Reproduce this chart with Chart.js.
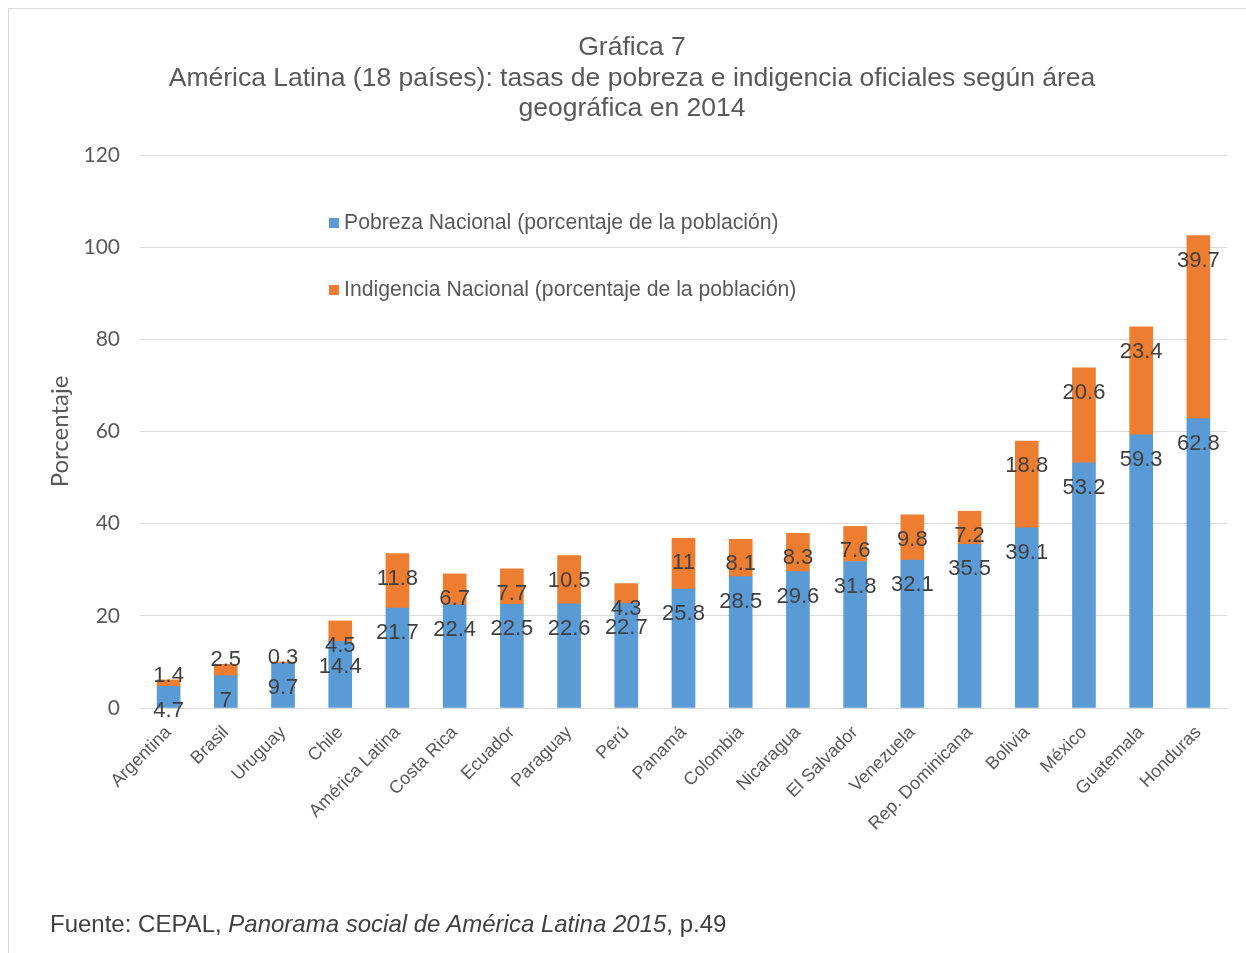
<!DOCTYPE html>
<html>
<head>
<meta charset="utf-8">
<script src="https://cdn.jsdelivr.net/npm/chart.js@4.4.1/dist/chart.umd.min.js"></script>
<style>
  html, body { margin: 0; padding: 0; background: #fff; }
  #wrap { position: relative; width: 1246px; height: 953px; overflow: hidden; }
  #frame { position: absolute; left: 8px; top: 8px; width: 1300px; height: 1000px; border: 1px solid #d9d9d9; }
  #chart { position: absolute; left: 0; top: 0; }
  #fuente { position: absolute; left: 50px; top: 910px; font: 24px "Liberation Sans", Arial, sans-serif; color: #404040; white-space: nowrap; }
</style>
</head>
<body>
<div id="wrap">
  <div id="frame"></div>
  <canvas id="chart" width="1246" height="953"></canvas>
  <div id="fuente">Fuente: CEPAL, <i>Panorama social de América Latina 2015</i>, p.49</div>
</div>
<script>
const paises = ['Argentina', 'Brasil', 'Uruguay', 'Chile', 'América Latina', 'Costa Rica', 'Ecuador',
  'Paraguay', 'Perú', 'Panamá', 'Colombia', 'Nicaragua', 'El Salvador', 'Venezuela',
  'Rep. Dominicana', 'Bolivia', 'México', 'Guatemala', 'Honduras'];
const pobreza = [4.7, 7, 9.7, 14.4, 21.7, 22.4, 22.5, 22.6, 22.7, 25.8, 28.5, 29.6, 31.8, 32.1, 35.5, 39.1, 53.2, 59.3, 62.8];
const indigencia = [1.4, 2.5, 0.3, 4.5, 11.8, 6.7, 7.7, 10.5, 4.3, 11, 8.1, 8.3, 7.6, 9.8, 7.2, 18.8, 20.6, 23.4, 39.7];
const yTicks = [0, 20, 40, 60, 80, 100, 120];

const tituloLineas = ['Gráfica 7',
  'América Latina (18 países): tasas de pobreza e indigencia oficiales según área',
  'geográfica en 2014'];

const gris = '#595959';
const arial = '"Liberation Sans", Arial, sans-serif';

// title, legend and value labels drawn straight on the canvas
const decoPlugin = {
  id: 'deco',
  afterDatasetsDraw(chart) {
    const ctx = chart.ctx;
    ctx.save();
    ctx.font = '22px ' + arial;
    ctx.fillStyle = '#404040';
    ctx.textAlign = 'center';
    ctx.textBaseline = 'middle';
    chart.data.datasets.forEach((ds, i) => {
      chart.getDatasetMeta(i).data.forEach((bar, j) => {
        const h = bar.base - bar.y;
        // small segments get their label just above the top
        const y = h < 15 ? bar.y - 4 : bar.y + 25;
        ctx.fillText(String(ds.data[j]), bar.x, y);
      });
    });
    ctx.restore();
  },
  afterDraw(chart) {
    const ctx = chart.ctx;
    ctx.save();
    ctx.fillStyle = gris;
    ctx.textAlign = 'center';
    ctx.textBaseline = 'middle';
    ctx.font = '26.5px ' + arial;
    tituloLineas.forEach((t, i) => ctx.fillText(t, 632, 48 + i * 30.5));

    // legend, stacked inside the plot area
    ctx.textAlign = 'left';
    ctx.font = '21.2px ' + arial;
    const items = chart.data.datasets;
    items.forEach((ds, i) => {
      const y = 223 + i * 67;
      ctx.fillStyle = ds.backgroundColor;
      ctx.fillRect(329, y - 5, 10, 10);
      ctx.fillStyle = gris;
      ctx.fillText(ds.label, 344, y);
    });
    ctx.restore();
  }
};

const ctx = document.getElementById('chart').getContext('2d');
const chart = new Chart(ctx, {
  type: 'bar',
  data: {
    labels: paises,
    datasets: [
      { label: 'Pobreza Nacional (porcentaje de la población)', data: pobreza, backgroundColor: '#5b9bd5' },
      { label: 'Indigencia Nacional (porcentaje de la población)', data: indigencia, backgroundColor: '#ed7d31' }
    ]
  },
  options: {
    responsive: false,
    animation: false,
    barThickness: 23,
    layout: { padding: { top: 155, right: 19, bottom: 95, left: 0 } },
    plugins: {
      legend: { display: false },
      title: { display: false },
      tooltip: { enabled: false }
    },
    scales: {
      x: {
        stacked: true,
        grid: { display: false },
        border: { display: true, color: '#d9d9d9', width: 1 },
        ticks: {
          color: gris,
          font: { family: arial, size: 18 },
          minRotation: 45,
          maxRotation: 45,
          autoSkip: false,
          padding: 6
        },
        afterFit(scale) { scale.height = 150; }
      },
      y: {
        stacked: true,
        min: 0,
        max: 120,
        afterBuildTicks(scale) { scale.ticks = yTicks.map(v => ({ value: v })); },
        grid: { color: '#d9d9d9', drawTicks: false },
        border: { display: false },
        ticks: {
          color: gris,
          font: { family: 'Lato, sans-serif', size: 21 },
          padding: 20
        },
        title: {
          display: true,
          text: 'Porcentaje',
          color: gris,
          font: { family: 'Lato, sans-serif', size: 24 },
          padding: { top: 46, bottom: 0 }
        },
        afterFit(scale) { scale.width = 140; }
      }
    }
  },
  plugins: [decoPlugin]
});
</script>
</body>
</html>
